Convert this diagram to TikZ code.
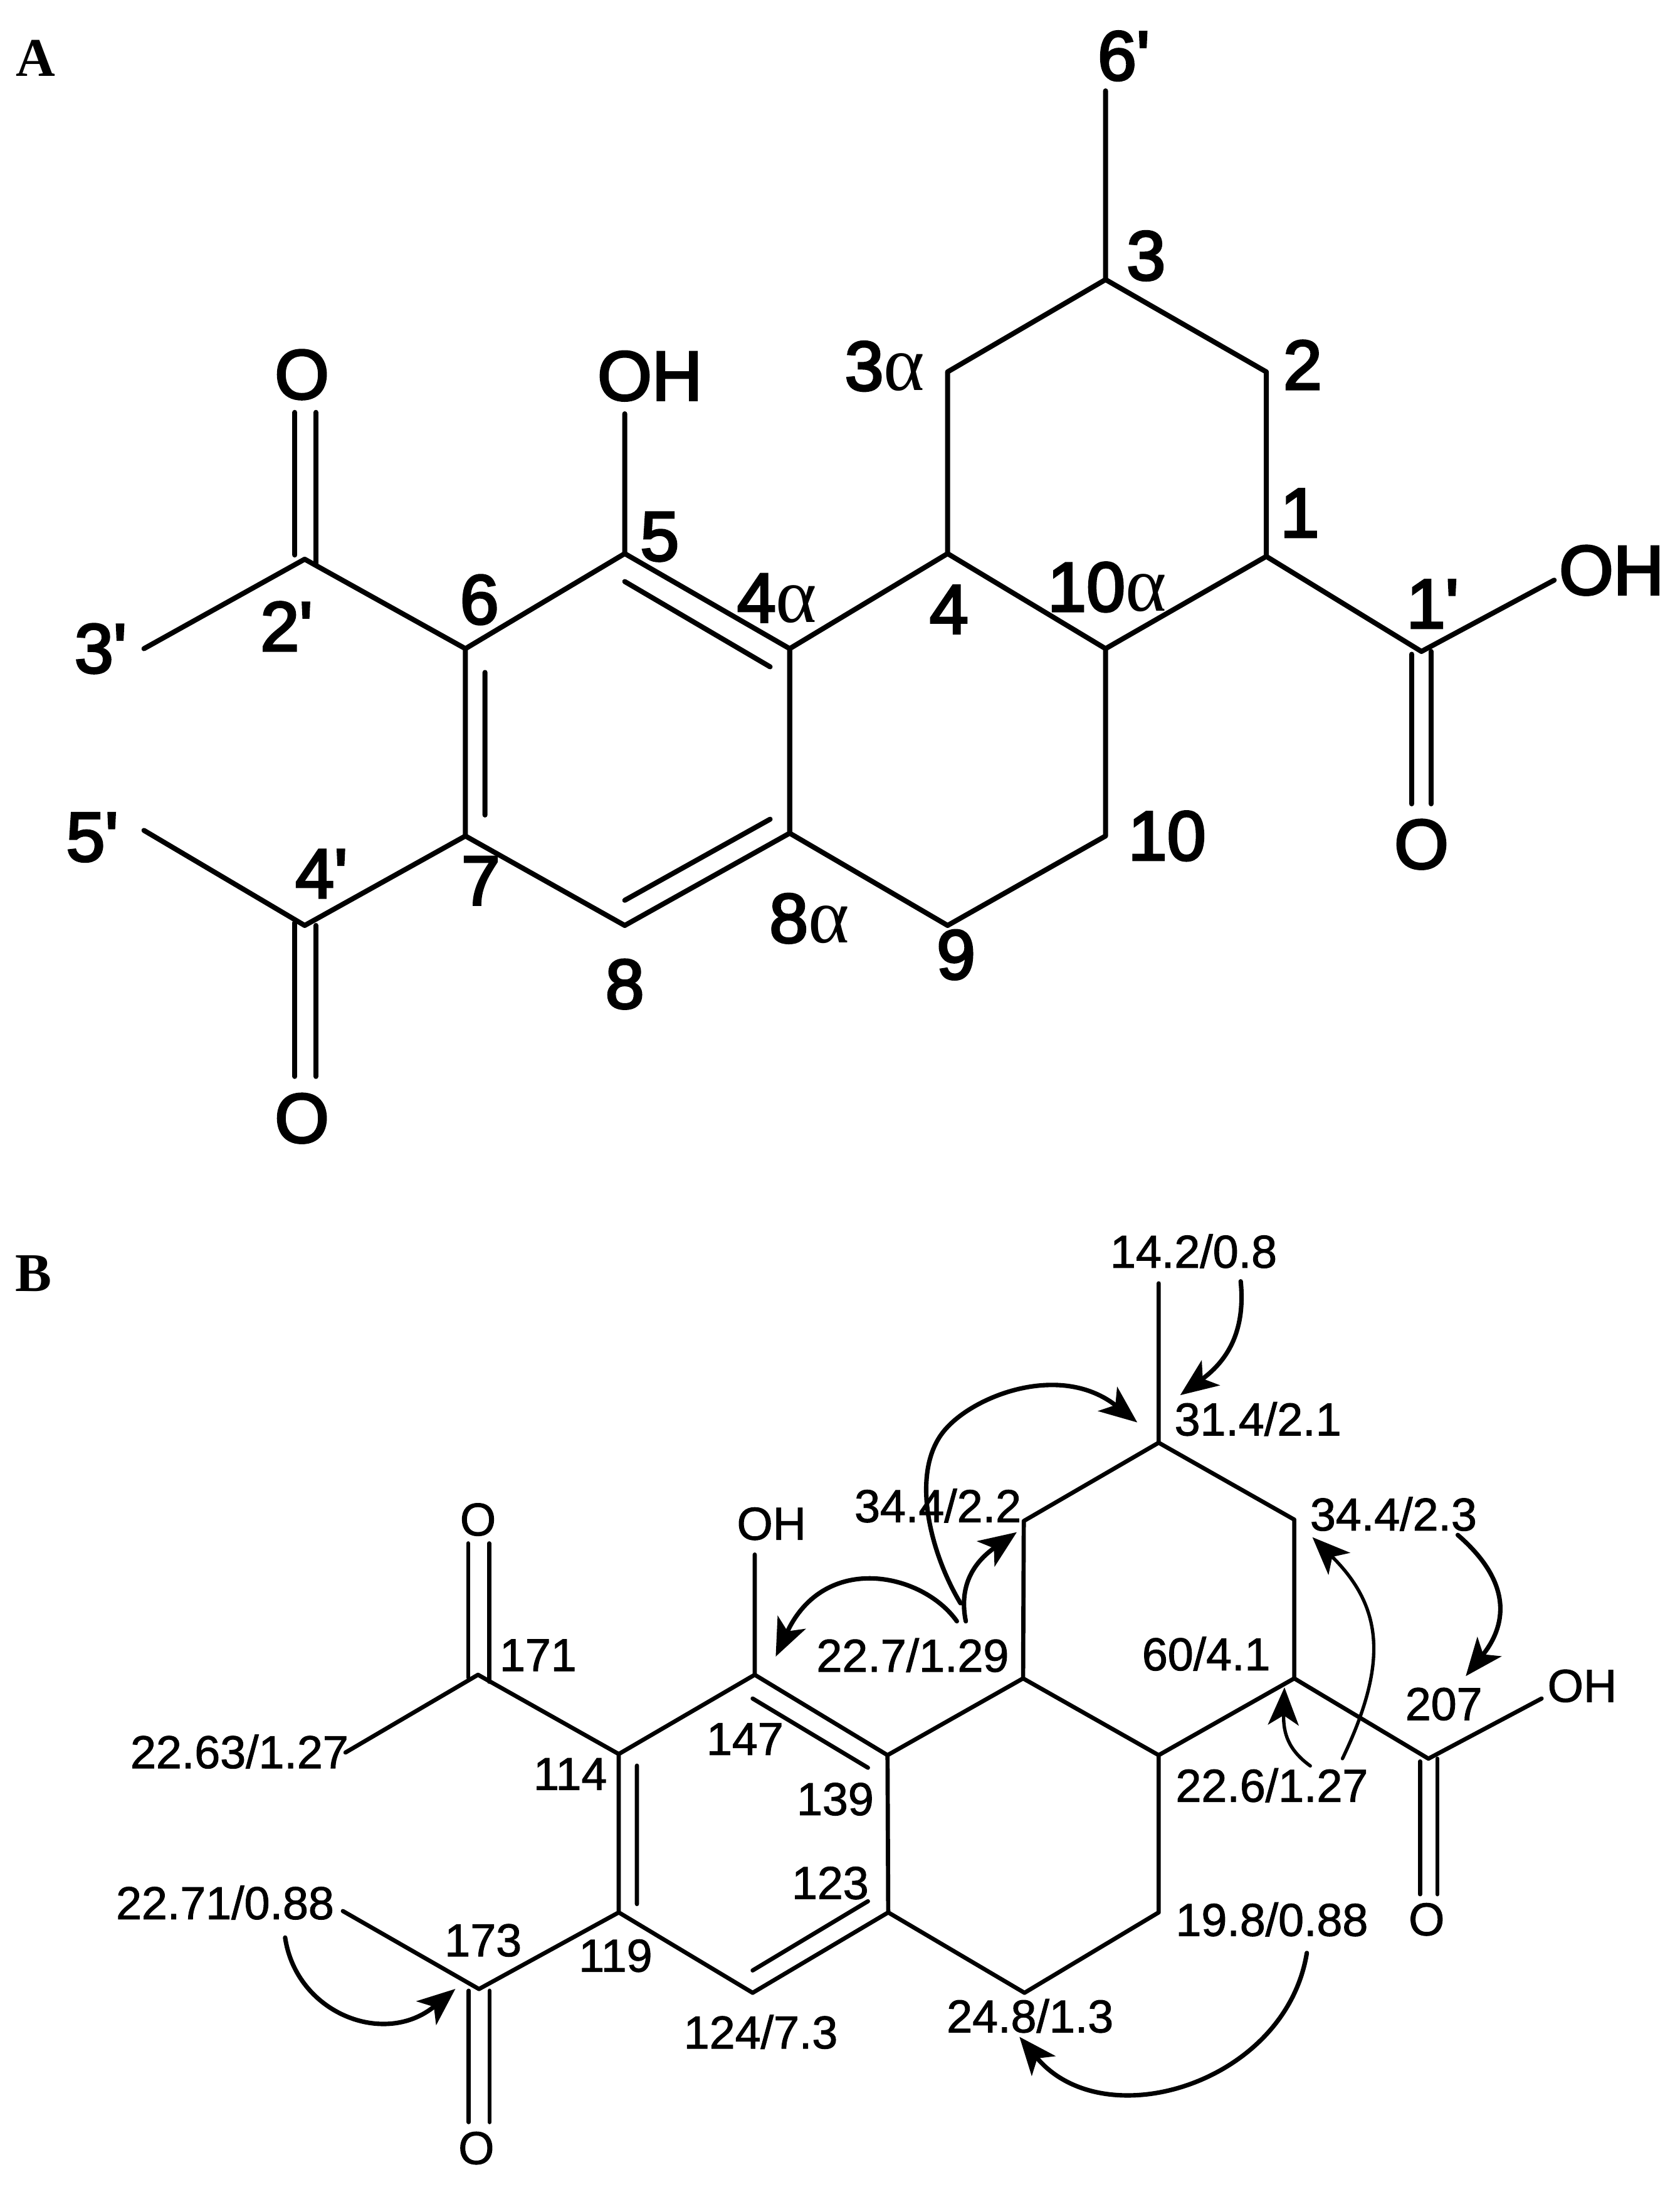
\documentclass[tikz,border=0pt]{standalone}
\usepackage{fontspec}
\setmainfont{Liberation Sans}
\newfontfamily\serifgreek{Liberation Serif}
\newfontfamily\fontA[FakeBold=3.2]{Liberation Sans}
\newfontfamily\fontB[FakeBold=1.4]{Liberation Sans}
\usetikzlibrary{arrows.meta}
\newcommand{\alphaglyph}{{\serifgreek\fontsize{56}{56}\selectfont α}}
\tikzset{
  x=1pt,y=-1pt,
  bondA/.style={line width=3.6pt,line cap=round,line join=round},
  bondB/.style={line width=3pt,line cap=round,line join=round},
  labelA/.style={inner sep=0pt,font=\fontsize{50}{50}\fontA\selectfont},
  labelB/.style={inner sep=0pt,font=\fontsize{33}{33}\fontB\selectfont},
  panel/.style={inner sep=0pt,font=\fontsize{39}{39}\selectfont\bfseries\serifgreek},
  hmbc/.style={line width=3.2pt,line cap=round,-{Stealth[length=27pt,width=22pt,inset=7pt]}},
  hmbcthin/.style={hmbc,line width=2.4pt},
}
\begin{document}
\begin{tikzpicture}
\useasboundingbox (0,0) rectangle (1202,1568);
\fill[white] (0,0) rectangle (1202,1568);

\node[panel] (panelA) at (25.5,41.5) {A};
\node[panel] (panelB) at (24,911) {B};

% ---------- Panel A ----------
\coordinate (a6p) at (791,65);
\coordinate (a3) at (791,200);
\coordinate (a3a) at (678,266);
\coordinate (a2) at (906,266);
\coordinate (a4) at (678,396);
\coordinate (a1) at (906,398);
\coordinate (a10a) at (791,464);
\coordinate (a4a) at (565,464);
\coordinate (a5) at (447,396);
\coordinate (a6) at (333,464);
\coordinate (a7) at (333,598);
\coordinate (a8) at (447,662);
\coordinate (a8a) at (565,596);
\coordinate (a9) at (678,662);
\coordinate (a10) at (791,598);
\coordinate (a1p) at (1017,466);
\coordinate (aOHr) at (1112,415);
\coordinate (a2p) at (218,400);
\coordinate (a3p) at (103,464);
\coordinate (a4p) at (218,662);
\coordinate (a5p) at (103,594);
\coordinate (aOHt) at (447,296);

\draw[bondA] (a6p)--(a3) (a3)--(a3a) (a3)--(a2) (a3a)--(a4) (a2)--(a1) (a4)--(a10a) (a1)--(a10a)
  (a4)--(a4a) (a4a)--(a5) (a5)--(a6) (a6)--(a7) (a7)--(a8) (a8)--(a8a) (a8a)--(a4a)
  (a8a)--(a9) (a9)--(a10) (a10)--(a10a) (a1)--(a1p) (a1p)--(aOHr)
  (a2p)--(a6) (a2p)--(a3p) (a4p)--(a7) (a4p)--(a5p) (a5)--(aOHt);
% double bonds, panel A
\coordinate (ai1) at (347,481); \coordinate (ai2) at (347,583);
\coordinate (ai3) at (447,416); \coordinate (ai4) at (551,477);
\coordinate (ai5) at (447,644); \coordinate (ai6) at (551,586);
\draw[bondA] (ai1)--(ai2) (ai3)--(ai4) (ai5)--(ai6);
\coordinate (aO1a) at (211,397); \coordinate (aO1b) at (211,295);
\coordinate (aO1c) at (226,403); \coordinate (aO1d) at (226,295);
\coordinate (aO2a) at (211,660); \coordinate (aO2b) at (211,770);
\coordinate (aO2c) at (226,662); \coordinate (aO2d) at (226,770);
\coordinate (aO3a) at (1010,468); \coordinate (aO3b) at (1010,575);
\coordinate (aO3c) at (1024,466); \coordinate (aO3d) at (1024,575);
\draw[bondA] (aO1a)--(aO1b) (aO1c)--(aO1d) (aO2a)--(aO2b) (aO2c)--(aO2d) (aO3a)--(aO3b) (aO3c)--(aO3d);

\node[labelA] (ta6p) at (804,40) {6'};
\node[labelA] (ta3) at (820,183) {3};
\node[labelA] (ta3a) at (633,262) {3\alphaglyph};
\node[labelA] (ta2) at (932,261) {2};
\node[labelA] (ta1) at (930,367) {1};
\node[labelA] (ta1p) at (1025,432) {1'};
\node[labelA] (ta4) at (679,436) {4};
\node[labelA] (ta10a) at (792,420) {10\alphaglyph};
\node[labelA] (ta4a) at (556,428) {4\alphaglyph};
\node[labelA] (ta5) at (472,384) {5};
\node[labelA] (ta6) at (343,429) {6};
\node[labelA] (ta2p) at (205,448) {2'};
\node[labelA] (ta3p) at (72,464) {3'};
\node[labelA] (taOH) at (465,269) {OH};
\node[labelA] (taO1) at (216,268) {O};
\node[labelA] (taOHr) at (1153,408) {OH};
\node[labelA] (taO3) at (1017,604) {O};
\node[labelA] (ta5p) at (66,599) {5'};
\node[labelA] (ta4p) at (230,625) {4'};
\node[labelA] (ta7) at (344,630) {7};
\node[labelA] (ta8) at (447,704) {8};
\node[labelA] (ta8a) at (579,657) {8\alphaglyph};
\node[labelA] (ta9) at (684,683) {9};
\node[labelA] (ta10) at (835,598) {10};
\node[labelA] (taO2) at (216,800) {O};

% ---------- Panel B ----------
\coordinate (b6p) at (829,918);
\coordinate (b3) at (829,1032);
\coordinate (b3a) at (732.5,1088);
\coordinate (b2) at (926,1087);
\coordinate (b4) at (732,1200.6);
\coordinate (b1) at (926,1200.6);
\coordinate (b10a) at (829,1255.5);
\coordinate (b4a) at (635,1255.5);
\coordinate (b1p) at (1022,1258);
\coordinate (bOHr) at (1103,1215);
\coordinate (b10) at (829,1368);
\coordinate (b8a) at (635.5,1368);
\coordinate (b9) at (733,1425.5);
\coordinate (b6) at (442.7,1254.7);
\coordinate (b7) at (442.7,1368);
\coordinate (b8) at (538.5,1425.5);
\coordinate (b4p) at (342.7,1422.8);
\coordinate (b5p) at (245.3,1367);
\coordinate (b3p) at (247.2,1253.6);
\coordinate (b5) at (540,1198);
\coordinate (b2p) at (342,1198);
\coordinate (bOHt) at (540,1112);

\draw[bondB] (b6p)--(b3) (b3)--(b3a) (b3)--(b2) (b3a)--(b4) (b2)--(b1) (b4)--(b10a) (b1)--(b10a)
  (b4)--(b4a) (b4a)--(b5) (b5)--(b6) (b6)--(b7) (b7)--(b8) (b8)--(b8a) (b8a)--(b4a)
  (b8a)--(b9) (b9)--(b10) (b10)--(b10a) (b1)--(b1p) (b1p)--(bOHr)
  (b2p)--(b6) (b2p)--(b3p) (b4p)--(b7) (b4p)--(b5p) (b5)--(bOHt);
\coordinate (bi1) at (455.7,1263); \coordinate (bi2) at (455.7,1362);
\coordinate (bi3) at (538.5,1215); \coordinate (bi4) at (621,1264.5);
\coordinate (bi5) at (538.5,1409.5); \coordinate (bi6) at (621,1360);
\draw[bondB] (bi1)--(bi2) (bi3)--(bi4) (bi5)--(bi6);
\coordinate (bO1a) at (335,1200); \coordinate (bO1b) at (335,1104);
\coordinate (bO1c) at (350,1203); \coordinate (bO1d) at (350,1104);
\coordinate (bO2a) at (335.4,1424); \coordinate (bO2b) at (335.4,1518);
\coordinate (bO2c) at (350.3,1424); \coordinate (bO2d) at (350.3,1518);
\coordinate (bO3a) at (1016,1260); \coordinate (bO3b) at (1016,1355);
\coordinate (bO3c) at (1028.4,1258); \coordinate (bO3d) at (1028.4,1355);
\draw[bondB] (bO1a)--(bO1b) (bO1c)--(bO1d) (bO2a)--(bO2b) (bO2c)--(bO2d) (bO3a)--(bO3b) (bO3c)--(bO3d);

\node[labelB] (t1) at (854,895) {14.2/0.8};
\node[labelB] (t2) at (900,1015) {31.4/2.1};
\node[labelB] (t3) at (671,1077) {34.4/2.2};
\node[labelB] (t4) at (997,1083) {34.4/2.3};
\node[labelB] (t5) at (653,1184) {22.7/1.29};
\node[labelB] (t6) at (863,1183) {60/4.1};
\node[labelB] (t7) at (1033,1219) {207};
\node[labelB] (tOHr) at (1132,1206) {OH};
\node[labelB] (t8) at (910,1277) {22.6/1.27};
\node[labelB] (t9) at (910,1373) {19.8/0.88};
\node[labelB] (tO3) at (1020.7,1373) {O};
\node[labelB] (t10) at (737,1442) {24.8/1.3};
\node[labelB] (t11) at (171.3,1253) {22.63/1.27};
\node[labelB] (t12) at (408,1269) {114};
\node[labelB] (t13) at (533,1244) {147};
\node[labelB] (t14) at (597.6,1287) {139};
\node[labelB] (t15) at (594,1347) {123};
\node[labelB] (t16) at (345.7,1388) {173};
\node[labelB] (t17) at (440.4,1399) {119};
\node[labelB] (t18) at (161,1361) {22.71/0.88};
\node[labelB] (t19) at (544.3,1453.5) {124/7.3};
\node[labelB] (tO2) at (340.8,1536.6) {O};
\node[labelB] (t20) at (385,1184) {171};
\node[labelB] (tO1) at (342,1087) {O};
\node[labelB] (tOH) at (552,1090) {OH};

% HMBC arrows
\coordinate (s1) at (887.7,916.6); \coordinate (e1) at (844.4,998);
\draw[hmbc] (s1) .. controls (891,950) and (880,972) .. (e1);
\coordinate (s2) at (687.2,1146.8); \coordinate (m2) at (677.7,1021); \coordinate (e2) at (813.7,1017.5);
\draw[hmbc] (s2) .. controls (665,1110) and (650,1050) .. (m2)
  .. controls (700,997) and (760,975) .. (e2);
\coordinate (s3) at (691,1159.7); \coordinate (e3) at (727.5,1096);
\draw[hmbc] (s3) .. controls (686,1135) and (696,1118) .. (e3);
\coordinate (s4) at (684.6,1159.7); \coordinate (e4) at (555,1185);
\draw[hmbc] (s4) .. controls (660,1125) and (590,1110) .. (e4);
\coordinate (s5) at (937.5,1263.2); \coordinate (e5) at (919,1207);
\draw[hmbcthin] (s5) .. controls (922,1252) and (918,1240) .. (e5);
\coordinate (s6) at (960.5,1258); \coordinate (e6) at (939,1099.6);
\draw[hmbcthin] (s6) .. controls (993,1190) and (990,1150) .. (e6);
\coordinate (s7) at (1043,1098); \coordinate (e7) at (1048.7,1199);
\draw[hmbc] (s7) .. controls (1080,1130) and (1080,1160) .. (e7);
\coordinate (s8) at (204,1386); \coordinate (e8) at (325.8,1422.7);
\draw[hmbc] (s8) .. controls (212,1440) and (275,1465) .. (e8);
\coordinate (s9) at (935,1397); \coordinate (e9) at (729.4,1457);
\draw[hmbc] (s9) .. controls (920,1490) and (790,1530) .. (e9);
\end{tikzpicture}
\end{document}
